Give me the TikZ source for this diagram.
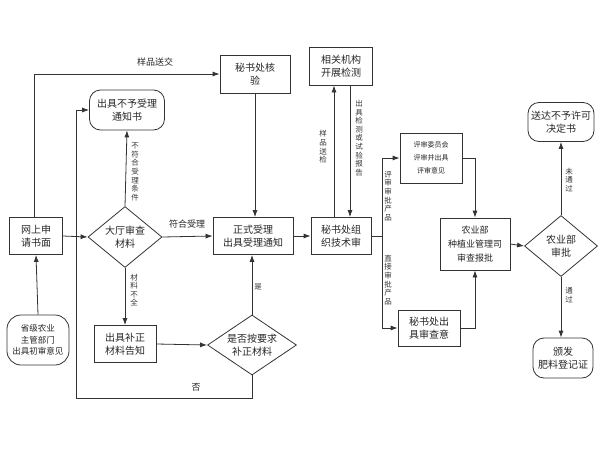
\documentclass[tikz,border=0pt]{standalone}
\usepackage{fontspec}
\setmainfont{Noto Sans CJK SC}
\usetikzlibrary{arrows.meta,shapes.geometric}
\begin{document}
\begin{tikzpicture}[x=1pt,y=-1pt,
  line/.style={draw=black!80,line width=0.8pt},
  arr/.style={line,-{Latex[length=7pt,width=5pt]}},
  box/.style={draw=black!80,line width=0.8pt,rectangle,inner sep=1pt,align=center,font=\fontsize{10}{12.5}\selectfont,text=black!85},
  rbox/.style={box,rounded corners=11pt},
  dia/.style={draw=black!80,line width=0.8pt,diamond,inner sep=0pt,align=center,font=\fontsize{10}{12.5}\selectfont,text=black!85},
  vlab/.style={inner sep=1pt,align=center,font=\fontsize{7.5}{8.6}\selectfont,text=black!80},
  hlab/.style={inner sep=1pt,font=\fontsize{9}{11}\selectfont,text=black!85},
]
\useasboundingbox (0,0) rectangle (600,450);
% nodes
\node[box,minimum width=53,minimum height=37] (ws) at (36,236) {网上申\\请书面};
\node[rbox,rounded corners=14pt,minimum width=62,minimum height=50,font=\fontsize{8.5}{11.5}\selectfont] (sj) at (38,340) {省级农业\\主管部门\\出具初审意见};
\node[box,minimum width=70,minimum height=38] (hy) at (255,74) {秘书处核\\验};
\node[rbox,minimum width=75,minimum height=40] (bysl) at (127,110) {出具不予受理\\通知书};
\node[dia,aspect=1.2,minimum width=74,minimum height=61] (dt) at (125,237) {大厅审查\\材料};
\node[box,minimum width=80,minimum height=37] (zs) at (253,236) {正式受理\\出具受理通知};
\node[dia,aspect=1.48,minimum width=89,minimum height=60] (sf) at (252,345) {是否按要求\\补正材料};
\node[box,minimum width=62,minimum height=37] (bz) at (125,344) {出具补正\\材料告知};
\node[box,minimum width=60,minimum height=37] (js) at (341,236) {秘书处组\\织技术审};
\node[box,minimum width=63,minimum height=38] (jc) at (341,66) {相关机构\\开展检测};
\node[box,minimum width=62,minimum height=50,font=\fontsize{7}{13}\selectfont] (ps) at (431,158) {评审委员会\\评审并出具\\评审意见};
\node[box,minimum width=70,minimum height=52,font=\fontsize{9}{14}\selectfont] (ny) at (475,244) {农业部\\种植业管理司\\审查报批};
\node[box,minimum width=62,minimum height=36] (msc) at (429,328) {秘书处出\\具审查意};
\node[dia,aspect=1.2,minimum width=73,minimum height=61] (sp) at (561,246) {农业部\\审批};
\node[rbox,minimum width=66,minimum height=39] (sd) at (561,122) {送达不予许可\\决定书};
\node[rbox,minimum width=60,minimum height=40] (bf) at (563,358) {颁发\\肥料登记证};
% helper coordinates
\coordinate (c1) at (76,398);
\coordinate (c2) at (382,236);
% labels
\node[hlab] (l1) at (155,62) {样品送交};
\node[hlab] (l2) at (187,224) {符合受理};
\node[hlab] (l3) at (196,387) {否};
\node[vlab] (l4) at (135,172) {不\\符\\合\\受\\理\\条\\件};
\node[vlab] (l5) at (134,290) {材\\料\\不\\全};
\node[vlab] (l6) at (258,287) {是};
\node[vlab] (l7) at (323,147) {样\\品\\送\\检};
\node[vlab] (l8) at (359,138) {出\\具\\检\\测\\或\\试\\验\\报\\告};
\node[vlab] (l9) at (388,196) {评\\审\\审\\批\\产\\品};
\node[vlab] (l10) at (388,280) {直\\接\\审\\批\\产\\品};
\node[vlab] (l11) at (569,180) {未\\通\\过};
\node[vlab] (l12) at (569,295) {通\\过};
% connectors
\draw[arr] (sj.north) -- (ws.south);
\draw[arr] ([xshift=-2pt]ws.north) |- (hy.west);
\draw[arr] (ws.east) -- (dt.west);
\draw[arr] (dt.north) -- (bysl.south);
\draw[line] (sf.south) |- (c1);
\draw[arr] (c1) |- (bysl.west);
\draw[arr] (dt.east) -- (zs.west);
\draw[arr] (hy.south) -- (hy.south |- zs.north);
\draw[arr] (sf.north) -- (sf.north |- zs.south);
\draw[arr] (dt.south) -- (dt.south |- bz.north);
\draw[arr] (bz.east) -- (sf.west);
\draw[arr] (zs.east) -- (js.west);
\draw[arr] ([xshift=-7pt]js.north) -- ([xshift=-7pt]jc.south);
\draw[arr] ([xshift=9pt]jc.south) -- ([xshift=9pt]js.north);
\draw[line] (js.east) -- (c2);
\draw[arr] (c2) |- (ps.west);
\draw[arr] (c2) |- (msc.west);
\draw[arr] (ps.east) -| (ny.north);
\draw[arr] (msc.east) -| (ny.south);
\draw[arr] (ny.east) -- (sp.west);
\draw[arr] (sp.north) -- (sd.south);
\draw[arr] (sp.south) -- (sp.south |- bf.north);
\end{tikzpicture}
\end{document}
